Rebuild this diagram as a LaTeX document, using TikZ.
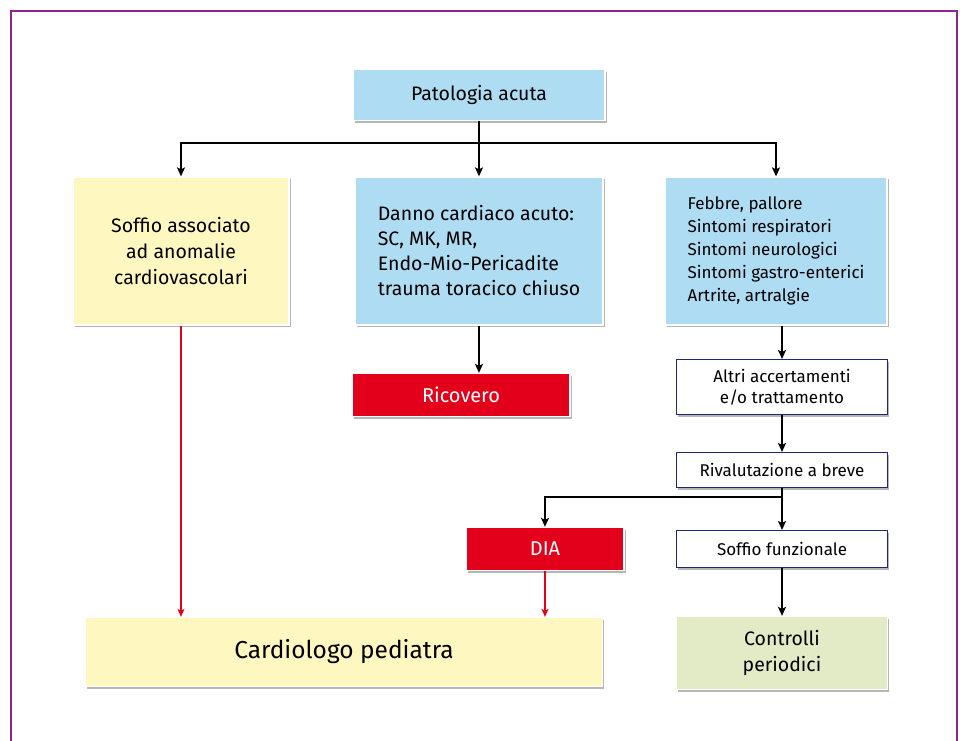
\documentclass[tikz,border=0pt]{standalone}
\usepackage{fontspec}
\setmainfont{Fira Sans}
\usetikzlibrary{arrows.meta,shadows}
\definecolor{cielo}{RGB}{174,220,243}
\definecolor{paglia}{RGB}{255,247,192}
\definecolor{rossoscuro}{RGB}{226,0,26}
\definecolor{salvia}{RGB}{227,234,198}
\definecolor{navy}{RGB}{30,40,120}
\definecolor{viola}{RGB}{145,35,145}
\tikzstyle{cell}=[draw=white, line width=1.3pt, inner sep=0pt, align=center, drop shadow={shadow xshift=1.5pt, shadow yshift=-2pt, opacity=.35}]
\tikzstyle{azzurro}=[cell, fill=cielo]
\tikzstyle{giallo}=[cell, fill=paglia]
\tikzstyle{rosso}=[cell, fill=rossoscuro, text=white]
\tikzstyle{verde}=[cell, fill=salvia]
\tikzstyle{bianco}=[cell, draw=navy, line width=1pt, fill=white]
\tikzstyle{freccia}=[draw=black, line width=1.8pt, -{Stealth[length=9pt, width=8pt, inset=2pt]}]
\tikzstyle{rossa}=[freccia, draw=rossoscuro, line width=1.4pt, -{Stealth[length=8pt, width=7pt, inset=2pt]}]
\newcommand{\cell}{\node[cell]}

\begin{document}
\begin{tikzpicture}[x=1pt, y=-1pt]
\useasboundingbox (0,0) rectangle (960,740);
\clip (0,0) rectangle (960,740);
\draw[viola, line width=2pt] (11,11) rectangle (957,800);

\cell[azzurro, minimum width=252, minimum height=51, font=\fontsize{19.5}{22}\selectfont] (top) at (479,95) {Patologia acuta};
\cell[giallo, minimum width=216, minimum height=148, font=\fontsize{19.5}{26}\selectfont] (soffio) at (181,251) {Soffio associato\\ad anomalie\\cardiovascolari};
\cell[azzurro, minimum width=248, minimum height=148, align=left, font=\fontsize{19.5}{25}\selectfont] (danno) at (479,251) {Danno cardiaco acuto:\\SC, MK, MR,\\Endo-Mio-Pericadite\\trauma toracico chiuso};
\cell[azzurro, minimum width=222, minimum height=148, align=left, font=\fontsize{17}{23}\selectfont] (febbre) at (776,251) {Febbre, pallore\\Sintomi respiratori\\Sintomi neurologici\\Sintomi gastro-enterici\\Artrite, artralgie};
\cell[rosso, minimum width=218, minimum height=43, font=\fontsize{20}{22}\selectfont] (ricovero) at (461,395) {Ricovero};
\cell[bianco, minimum width=211, minimum height=55, font=\fontsize{17}{21}\selectfont] (altri) at (782,387) {Altri accertamenti\\e/o trattamento};
\cell[bianco, minimum width=211, minimum height=35, font=\fontsize{17}{20}\selectfont] (rival) at (782,470) {Rivalutazione a breve};
\cell[rosso, minimum width=158, minimum height=43, font=\fontsize{20}{22}\selectfont] (dia) at (545,549) {DIA};
\cell[bianco, minimum width=211, minimum height=37, font=\fontsize{17}{20}\selectfont] (sfunz) at (782,549) {Soffio funzionale};
\cell[giallo, minimum width=517, minimum height=69, font=\fontsize{24.5}{28}\selectfont] (cardio) at (344,652) {Cardiologo pediatra};
\cell[verde, minimum width=211, minimum height=73, font=\fontsize{19.5}{26}\selectfont] (controlli) at (782,653) {Controlli\\periodici};

% rami dalla patologia acuta
\coordinate (j1) at (479,143);
\draw[freccia] (top.south) -- (danno.north);
\draw[freccia] (j1) -| (soffio.north);
\draw[freccia] (j1) -| (febbre.north);
\draw[freccia] (danno.south) -- (danno.south |- ricovero.north);
% colonna di destra
\draw[freccia] (febbre.south -| altri.north) -- (altri.north);
\draw[freccia] (altri.south) -- (rival.north);
\coordinate (j2) at (782,497);
\draw[freccia] (rival.south) -- (sfunz.north);
\draw[freccia] (j2) -| (dia.north);
\draw[freccia] (sfunz.south) -- (controlli.north);
% verso il cardiologo
\draw[rossa] (soffio.south) -- (soffio.south |- cardio.north);
\draw[rossa] (dia.south) -- (dia.south |- cardio.north);
\end{tikzpicture}
\end{document}
